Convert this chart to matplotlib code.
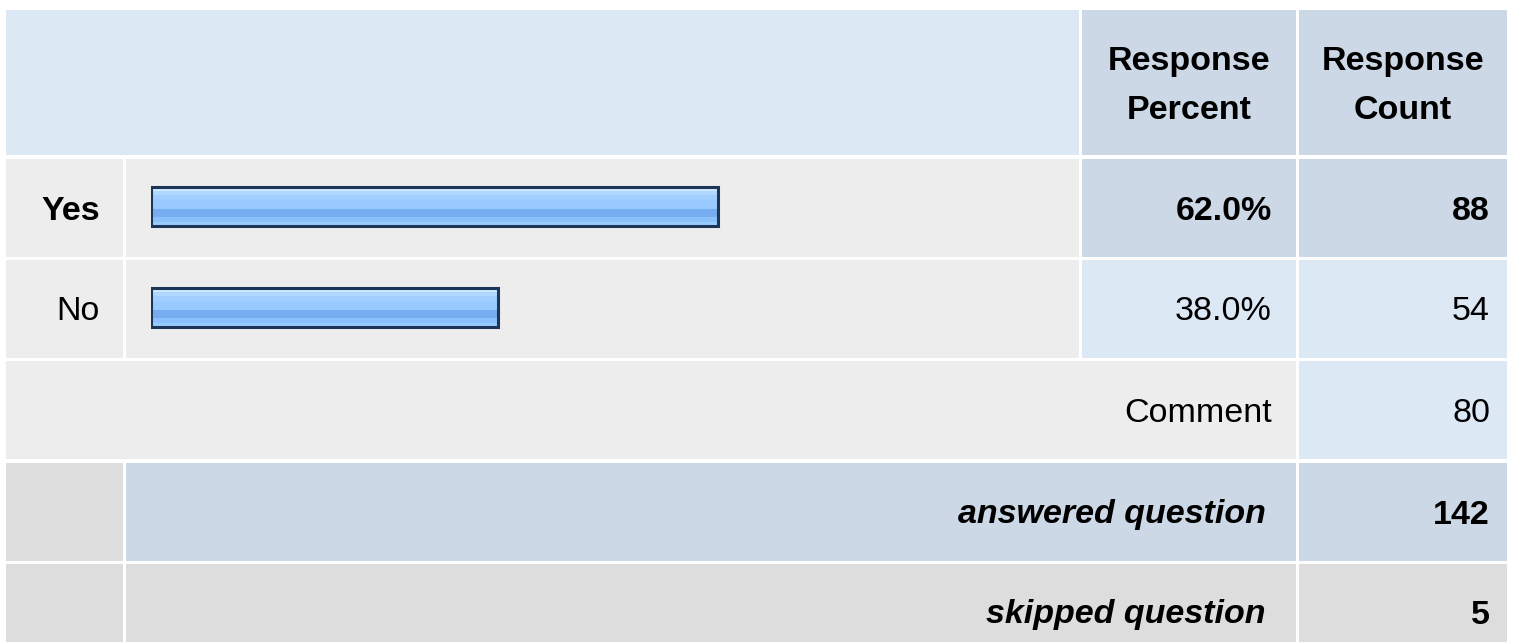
import matplotlib
matplotlib.use("Agg")
import matplotlib.pyplot as plt
from matplotlib.patches import Rectangle

# ---------------- data ----------------
answers = ["Yes", "No"]
percents = [62.0, 38.0]
counts = [88, 54]
comment_label = "Comment"
comment_count = 80
answered_label = "answered question"
answered_count = 142
skipped_label = "skipped question"
skipped_count = 5
header_percent = "Response\nPercent"
header_count = "Response\nCount"

# ---------------- style ----------------
W, H = 1513, 642
FONT = "Liberation Sans"
FS = 24.5
LIGHT_BLUE = "#DDE8F5"
BLUE_GRAY = "#CCD8E6"
LIGHT_GRAY = "#EDEDED"
GRAY = "#DDDDDD"
NAVY = "#1D3557"
STRIPES = [  # (fraction start, fraction end, colour) from top of bar
    (0.00, 0.10, "#CDE8FF"),
    (0.10, 0.21, "#B0D8FF"),
    (0.21, 0.33, "#A0CFFF"),
    (0.33, 0.57, "#98C9FF"),
    (0.57, 0.76, "#76ADF0"),
    (0.76, 0.89, "#8AC1FC"),
    (0.89, 1.00, "#98CCFF"),
]

# column edges (pixels)
X0, X1, X2, X3, X4, X5, X6, X7 = 6, 123, 126, 1079, 1082, 1296, 1299, 1507
# row edges (pixels)
ROWS = [(10, 155), (159, 257), (260, 358), (361, 459), (463, 561), (564, 660)]
ROW_CENTERS = [85, 208, 309, 410, 512, 612]

fig = plt.figure(figsize=(W / 100, H / 100), dpi=100)
ax = fig.add_axes([0, 0, 1, 1])
ax.set_xlim(0, W)
ax.set_ylim(H, 0)
ax.axis("off")


def cell(x0, x1, row, color):
    y0, y1 = ROWS[row]
    ax.add_patch(Rectangle((x0, y0), x1 - x0, y1 - y0, facecolor=color,
                           edgecolor="none", zorder=1))


def txt(x, row, s, ha="right", weight="normal", style="normal", dy=3):
    yc = ROW_CENTERS[row]
    ax.text(x, yc + dy, s, ha=ha, va="center", fontsize=FS, family=FONT,
            weight=weight, style=style, color="black", zorder=5,
            linespacing=1.78)


# header
cell(X0, X3, 0, LIGHT_BLUE)
cell(X4, X5, 0, BLUE_GRAY)
cell(X6, X7, 0, BLUE_GRAY)
txt((X4 + X5) / 2, 0, header_percent, ha="center", weight="bold", dy=1)
txt((X6 + X7) / 2, 0, header_count, ha="center", weight="bold", dy=1)

# answer rows
for i, (lab, p, c) in enumerate(zip(answers, percents, counts)):
    r = i + 1
    bold = "bold" if i == 0 else "normal"
    cell(X0, X1, r, LIGHT_GRAY)
    cell(X2, X3, r, LIGHT_GRAY)
    colr = BLUE_GRAY if i == 0 else LIGHT_BLUE
    cell(X4, X5, r, colr)
    cell(X6, X7, r, colr)
    txt(X1 - 23, r, lab, weight=bold)
    txt(X5 - 24, r, f"{p:.1f}%", weight=bold)
    txt(X7 - 17, r, f"{c}", weight=bold)

# comment row
cell(X0, X5, 3, LIGHT_GRAY)
cell(X6, X7, 3, LIGHT_BLUE)
txt(X5 - 24, 3, comment_label)
txt(X7 - 17, 3, f"{comment_count}")

# answered row
cell(X0, X1, 4, GRAY)
cell(X2, X5, 4, BLUE_GRAY)
cell(X6, X7, 4, BLUE_GRAY)
txt(X5 - 30, 4, answered_label, weight="bold", style="italic")
txt(X7 - 17, 4, f"{answered_count}", weight="bold")

# skipped row
cell(X0, X1, 5, GRAY)
cell(X2, X5, 5, GRAY)
cell(X6, X7, 5, GRAY)
txt(X5 - 30, 5, skipped_label, weight="bold", style="italic")
txt(X7 - 17, 5, f"{skipped_count}", weight="bold")

# ---------------- bars (data driven) ----------------
bar_left_px, bar_full_px = 150.5, 915
top_px, bot_px = 156, 358
bax = fig.add_axes([bar_left_px / W, 1 - bot_px / H, bar_full_px / W,
                    (bot_px - top_px) / H])
bax.set_xlim(0, 100)
bax.set_ylim(len(answers) - 0.5, -0.5)
bax.axis("off")
bax.patch.set_alpha(0)
bh = 0.386
for i, p in enumerate(percents):
    top = i - bh / 2
    for f0, f1, col in STRIPES:
        hh = (f1 - f0) * bh
        bax.barh(top + f0 * bh + hh / 2, p, height=hh, left=0, color=col,
                 edgecolor="none", zorder=2)
    bax.barh(i, p, height=bh, left=0, fill=False, edgecolor=NAVY,
             linewidth=2.2, zorder=3)

fig.savefig("out.png", dpi=100, facecolor="white")
